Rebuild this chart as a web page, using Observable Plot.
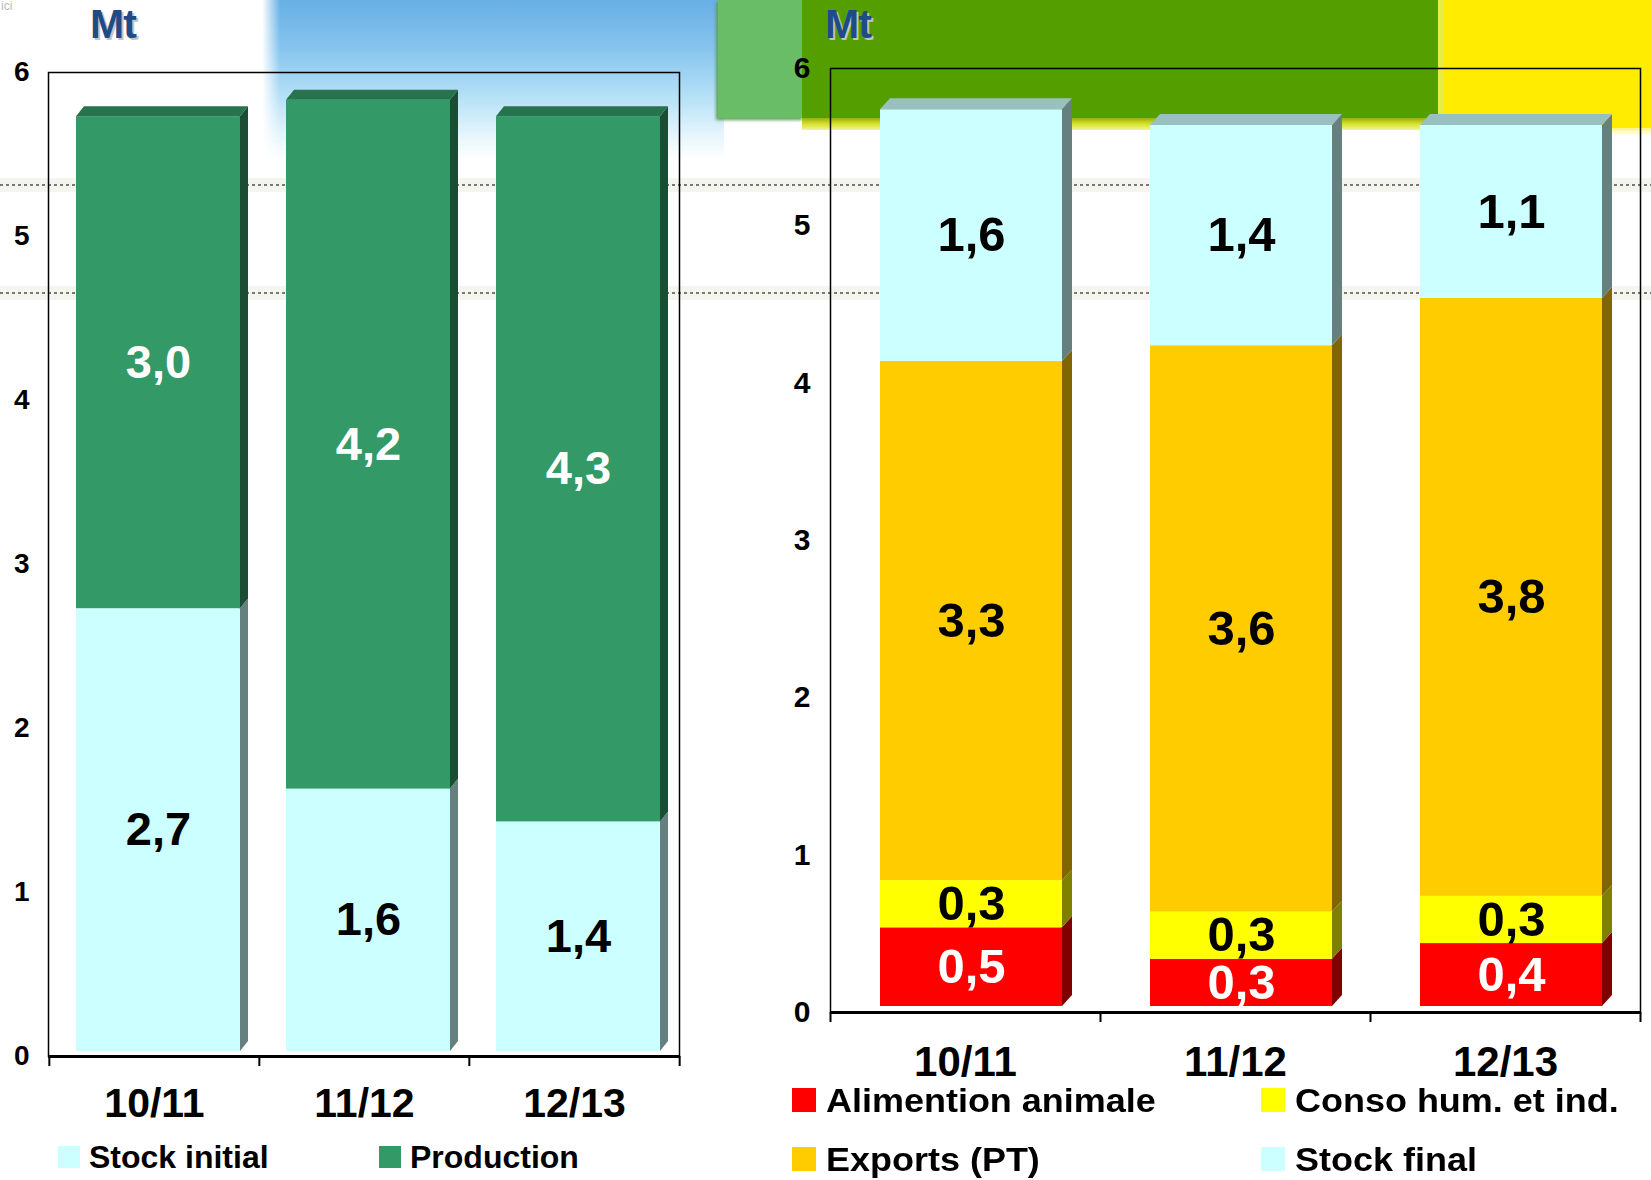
<!DOCTYPE html>
<html>
<head>
<meta charset="utf-8">
<script src="https://cdn.jsdelivr.net/npm/d3@7"></script>
<script src="https://cdn.jsdelivr.net/npm/@observablehq/plot@0.6"></script>
<style>
  html, body { margin: 0; padding: 0; background: #fff; }
  #page { position: relative; width: 1651px; height: 1180px; overflow: hidden;
          font-family: "Liberation Sans", Arial, sans-serif; }
  .deco { position: absolute; }
  .mt { position: absolute; font-size: 41px; font-weight: bold; line-height: 41px;
        color: #1f4b86; text-shadow: 2px 2px 0 #c4c4c4; letter-spacing: -1px; }
  .legend { position: absolute; font-weight: bold; color: #000; }
  .legend .item { position: absolute; display: flex; align-items: center; white-space: nowrap; }
  .legend .sw { display: inline-block; flex: none; }
  svg { position: absolute; top: 0; }
</style>
</head>
<body>
<div id="page">
  <div class="deco" style="left:1px;top:0;font-size:12px;line-height:12px;color:#b8b8b8;">ici</div>
  <div class="deco" style="left:262px;top:0;width:462px;height:160px;
       background:linear-gradient(to bottom,#68afe4 0%,#86c4ee 30%,#b8e2f7 62%,#e6f6fc 85%,rgba(255,255,255,0) 100%);
       -webkit-mask-image:linear-gradient(to right,transparent 0,#000 18px);mask-image:linear-gradient(to right,transparent 0,#000 18px);"></div>
  <div class="deco" style="left:718px;top:0;width:86px;height:118px;background:#69bd67;box-shadow:-2px 2px 3px #5b9d58;"></div>
  <div class="deco" style="left:802px;top:118px;width:640px;height:12px;background:linear-gradient(to bottom,#9aae10,#d6e22a 50%,#f2f49a);"></div>
  <div class="deco" style="left:802px;top:0;width:640px;height:118px;background:#559e00;"></div>
  <div class="deco" style="left:1438px;top:0;width:6px;height:130px;background:#e4ef40;"></div>
  <div class="deco" style="left:1443px;top:0;width:208px;height:130px;background:#ffec00;"></div>
  <div class="deco" style="left:1443px;top:128px;width:208px;height:8px;background:linear-gradient(to bottom,#fff59a,rgba(255,255,255,0));"></div>
  <div class="deco" style="left:0;top:178px;width:1651px;height:14px;background:#f5f5f0;"></div>
  <div class="deco" style="left:0;top:184px;width:1651px;height:2px;background:repeating-linear-gradient(to right,#777 0 3px,transparent 3px 6px);"></div>
  <div class="deco" style="left:0;top:286px;width:1651px;height:14px;background:#f5f5f0;"></div>
  <div class="deco" style="left:0;top:292px;width:1651px;height:2px;background:repeating-linear-gradient(to right,#777 0 3px,transparent 3px 6px);"></div>
</div>
<script>
// ---------- data ----------
const seasons = ["10/11", "11/12", "12/13"];
const yTicks = [0, 1, 2, 3, 4, 5, 6];
const unitLabel = "Mt";

const leftSeries = ["Stock initial", "Production"];
const stockInitial = [2.7, 1.6, 1.4];
const production = [3.0, 4.2, 4.3];

const rightSeries = ["Alimention animale", "Conso hum. et ind.", "Exports (PT)", "Stock final"];
const alimentation = [0.5, 0.3, 0.4];
const consoHum = [0.3, 0.3, 0.3];
const exportsPT = [3.3, 3.6, 3.8];
const stockFinal = [1.6, 1.4, 1.1];

// ---------- styles ----------
const leftColors = ["#ccffff", "#339966"];
const rightColors = ["#ff0000", "#ffff00", "#ffcc00", "#ccffff"];
const whiteLabelSeries = ["Production", "Alimention animale"];
const FONT = '"Liberation Sans", Arial, sans-serif';

function buildRows(series, columns) {
  const rows = [];
  seasons.forEach((season, i) =>
    series.forEach((s, j) => rows.push({season, series: s, value: columns[j][i]})));
  return rows;
}
const fmt = v => d3.format(".1f")(v).replace(".", ",");

function shade(color, k) {
  const c = d3.rgb(color);
  return d3.rgb(c.r * k, c.g * k, c.b * k).formatHex();
}

// add 3D side/top faces derived from the rects Plot computed
function add3d(svg, ddx, ddy) {
  const ns = "http://www.w3.org/2000/svg";
  const g = svg.querySelector('g[aria-label="bar"]');
  if (!g) return;
  const rects = Array.from(g.querySelectorAll("rect"));
  const topY = new Map();
  for (const r of rects) {
    const x = +r.getAttribute("x"), y = +r.getAttribute("y");
    if (!topY.has(x) || y < topY.get(x)) topY.set(x, y);
  }
  for (const r of rects) {
    const x = +r.getAttribute("x"), y = +r.getAttribute("y");
    const w = +r.getAttribute("width"), h = +r.getAttribute("height");
    const fill = r.getAttribute("fill");
    const side = document.createElementNS(ns, "polygon");
    side.setAttribute("points", `${x + w},${y + h} ${x + w + ddx},${y + h - ddy} ${x + w + ddx},${y - ddy} ${x + w},${y}`);
    side.setAttribute("fill", shade(fill, 0.5));
    g.appendChild(side);
    if (topY.get(x) === y) {
      const top = document.createElementNS(ns, "polygon");
      top.setAttribute("points", `${x},${y} ${x + ddx},${y - ddy} ${x + w + ddx},${y - ddy} ${x + w},${y}`);
      top.setAttribute("fill", shade(fill, 0.75));
      g.appendChild(top);
    }
  }
}

function stackedChart(cfg) {
  const {rows, series, colors, width, height, marginLeft, marginRight, marginTop, marginBottom,
         paddingInner, shiftX, shiftY, tickFont, tickPad, xFont, xPad, valueFont, depth} = cfg;
  const step = (width - marginLeft - marginRight) / seasons.length;
  const common = {x: "season", y: "value", z: "series"};
  const txt = {fontSize: valueFont, fontWeight: "bold", fontFamily: FONT, dx: shiftX, dy: shiftY};
  const svg = Plot.plot({
    width, height, marginLeft, marginRight, marginTop, marginBottom,
    style: {background: "transparent", color: "#000", fontFamily: FONT, overflow: "visible"},
    x: {domain: seasons, paddingInner, paddingOuter: paddingInner / 2, align: 0.5, label: null},
    y: {domain: [yTicks[0], yTicks[yTicks.length - 1]], label: null},
    color: {domain: series, range: colors},
    marks: [
      Plot.frame({stroke: "#000", strokeWidth: 1.5}),
      Plot.ruleY([0], {stroke: "#000", strokeWidth: 3}),
      Plot.ruleX(seasons, {x: d => d, y1: 0, y2: 0, insetBottom: -10, dx: -step / 2, stroke: "#000", strokeWidth: 2}),
      Plot.ruleX(seasons.slice(-1), {x: d => d, y1: 0, y2: 0, insetBottom: -10, dx: step / 2, stroke: "#000", strokeWidth: 2}),
      Plot.axisY({ticks: yTicks, tickFormat: d => String(d), tickSize: 0, tickPadding: tickPad,
                  fontSize: tickFont, fontWeight: "bold", label: null}),
      Plot.axisX({tickSize: 0, tickPadding: xPad, fontSize: xFont, fontWeight: "bold", label: null}),
      Plot.barY(rows, Plot.stackY({...common, fill: "series", dx: shiftX, dy: shiftY})),
      Plot.text(rows, Plot.stackY({...common, ...txt, fill: "#fff",
        text: d => whiteLabelSeries.includes(d.series) ? fmt(d.value) : null})),
      Plot.text(rows, Plot.stackY({...common, ...txt, fill: "#000",
        text: d => whiteLabelSeries.includes(d.series) ? null : fmt(d.value)}))
    ]
  });
  add3d(svg, depth[0], depth[1]);
  return svg;
}

const page = document.getElementById("page");

const leftSvg = stackedChart({
  rows: buildRows(leftSeries, [stockInitial, production]),
  series: leftSeries, colors: leftColors,
  width: 700, height: 1130, marginLeft: 48, marginRight: 21, marginTop: 72, marginBottom: 74,
  paddingInner: 0.22, shiftX: 4, shiftY: -5,
  tickFont: 28, tickPad: 19, xFont: 41, xPad: 31, valueFont: 47, depth: [8, 10]
});
leftSvg.style.left = "0px";
page.appendChild(leftSvg);

const rightSvg = stackedChart({
  rows: buildRows(rightSeries, [alimentation, consoHum, exportsPT, stockFinal]),
  series: rightSeries, colors: rightColors,
  width: 891, height: 1080, marginLeft: 70, marginRight: 11, marginTop: 68, marginBottom: 68,
  paddingInner: 0.326, shiftX: 6, shiftY: -6,
  tickFont: 30, tickPad: 20, xFont: 42, xPad: 34, valueFont: 49, depth: [10, 11]
});
rightSvg.style.left = "760px";
page.appendChild(rightSvg);

// unit labels
for (const left of [90, 825]) {
  const d = document.createElement("div");
  d.className = "mt";
  d.style.left = left + "px";
  d.style.top = "4px";
  d.textContent = unitLabel;
  page.appendChild(d);
}

// legends
function legend(series, colors, positions, fontSize, sw, gap, stretch) {
  const box = document.createElement("div");
  box.className = "legend";
  box.style.left = "0px"; box.style.top = "0px";
  box.style.fontSize = fontSize + "px";
  box.style.lineHeight = fontSize + "px";
  series.forEach((s, i) => {
    const [x, yc] = positions[i];
    const item = document.createElement("div");
    item.className = "item";
    item.style.left = x + "px";
    item.style.top = (yc - fontSize / 2) + "px";
    item.style.height = fontSize + "px";
    const swatch = document.createElement("span");
    swatch.className = "sw";
    swatch.style.width = sw + "px"; swatch.style.height = sw + "px";
    swatch.style.background = colors[i];
    swatch.style.marginRight = gap + "px";
    const label = document.createElement("span");
    label.textContent = s;
    label.style.display = "inline-block";
    label.style.transform = `scaleX(${stretch})`;
    label.style.transformOrigin = "left center";
    item.appendChild(swatch); item.appendChild(label);
    box.appendChild(item);
  });
  page.appendChild(box);
}
legend(leftSeries, leftColors, [[58, 1157], [379, 1157]], 32, 22, 9, 1);
legend(rightSeries, rightColors, [[792, 1100], [1261, 1100], [792, 1159], [1261, 1159]], 33, 24, 10, 1.09);
</script>
</body>
</html>
